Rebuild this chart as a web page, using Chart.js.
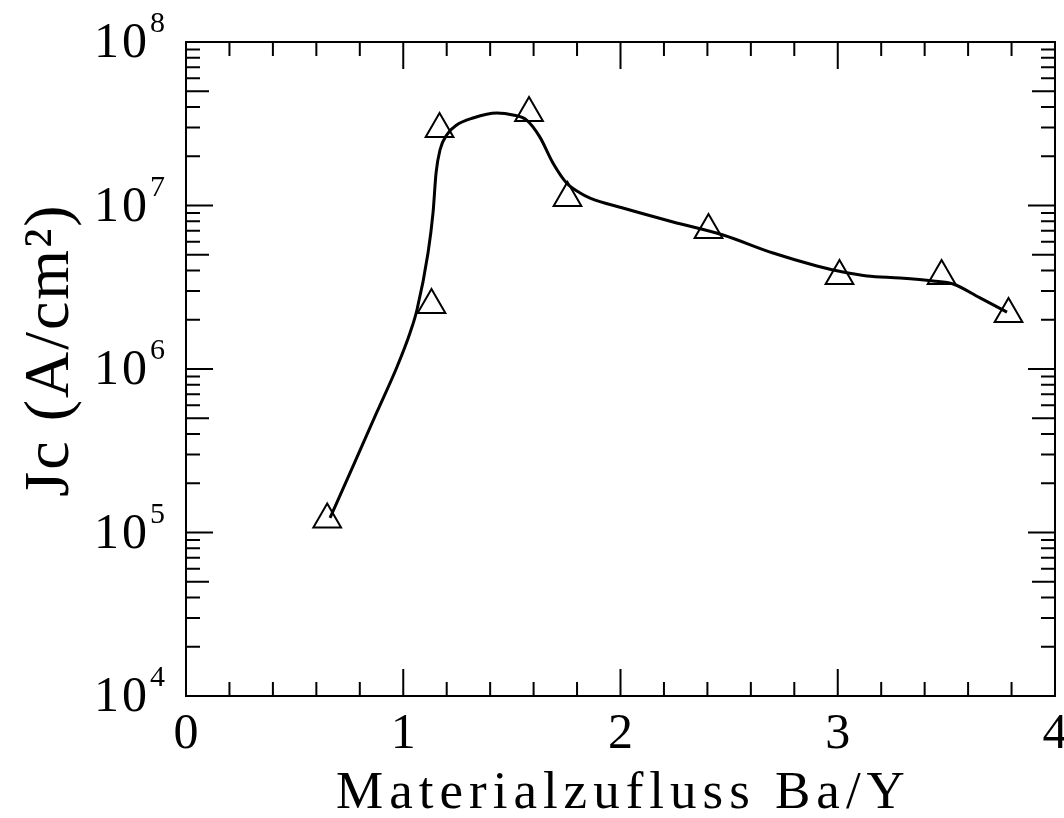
<!DOCTYPE html>
<html><head><meta charset="utf-8">
<script src="https://cdn.jsdelivr.net/npm/chart.js@4"></script>
<style>html,body{margin:0;padding:0;background:#fff;overflow:hidden}canvas{display:block}</style>
</head><body>
<div style="width:1064px;height:818px"><canvas id="c" width="1064" height="818"></canvas></div>
<script>
// measured points (triangles)
const measX = [0.65, 1.13, 1.167, 1.579, 1.756, 2.405, 3.008, 3.478, 3.786];
const measY = [1.2e5, 2.46e6, 2.94e7, 3.68e7, 1.11e7, 7.08e6, 3.7e6, 3.7e6, 2.17e6];
// fitted curve
const curveX = [0.663, 0.769, 0.879, 0.971, 1.031, 1.063, 1.114, 1.137, 1.151, 1.169, 1.200, 1.246, 1.321, 1.430, 1.505, 1.568, 1.629, 1.689, 1.752, 1.814, 1.860, 2.011, 2.242, 2.472, 2.702, 2.904, 3.024, 3.135, 3.287, 3.438, 3.531, 3.655, 3.779];
const curveY = [1.227e5, 2.55e5, 5.46e5, 1.029e6, 1.661e6, 2.296e6, 5.12e6, 9.0e6, 1.58e7, 2.185e7, 2.70e7, 3.108e7, 3.43e7, 3.68e7, 3.58e7, 3.33e7, 2.62e7, 1.82e7, 1.372e7, 1.193e7, 1.111e7, 9.65e6, 7.93e6, 6.60e6, 5.12e6, 4.27e6, 3.92e6, 3.71e6, 3.60e6, 3.45e6, 3.31e6, 2.72e6, 2.23e6];
// axes
const xTickValues = [0, 1, 2, 3, 4];
const xTickLabels = ['0', '1', '2', '3', '4'];
const xMinorTicks = [0.2,0.4,0.6,0.8,1.2,1.4,1.6,1.8,2.2,2.4,2.6,2.8,3.2,3.4,3.6,3.8];
const yTickValues = [1e4, 1e5, 1e6, 1e7, 1e8];
const yTickBase = '10';
const yTickExponents = ['4', '5', '6', '7', '8'];
const yMinorMultipliers = [2, 3, 4, 5, 6, 7, 8, 9];
const xTitle = 'Materialzufluss Ba/Y';
const yTitle = 'Jc (A/cm²)';

const FONT = '"Liberation Serif", "Times New Roman", serif';

const axesPlugin = {
  id: 'axesPlugin',
  afterDraw(chart) {
    const ctx = chart.ctx;
    const xs = chart.scales.x, ys = chart.scales.y;
    const L = xs.getPixelForValue(0), R = xs.getPixelForValue(4);
    const T = ys.getPixelForValue(1e8), B = ys.getPixelForValue(1e4);
    ctx.save();
    ctx.strokeStyle = '#000';
    ctx.fillStyle = '#000';
    ctx.lineWidth = 2;
    ctx.strokeRect(L, T, R - L, B - T);
    ctx.beginPath();
    const xt = (v, len) => {
      const p = xs.getPixelForValue(v);
      ctx.moveTo(p, B); ctx.lineTo(p, B - len);
      ctx.moveTo(p, T); ctx.lineTo(p, T + len);
    };
    xTickValues.forEach(v => xt(v, 27));
    xMinorTicks.forEach(v => xt(v, 14));
    const yt = (v, len) => {
      const p = ys.getPixelForValue(v);
      ctx.moveTo(L, p); ctx.lineTo(L + len, p);
      ctx.moveTo(R, p); ctx.lineTo(R - len, p);
    };
    yTickValues.forEach(v => yt(v, 27));
    for (let i = 0; i < yTickValues.length - 1; i++) {
      yMinorMultipliers.forEach(m => yt(yTickValues[i] * m, m === 5 ? 23 : 14));
    }
    ctx.stroke();

    // x tick labels
    ctx.font = '50px ' + FONT;
    ctx.textAlign = 'center';
    ctx.textBaseline = 'alphabetic';
    xTickValues.forEach((v, i) => {
      ctx.fillText(xTickLabels[i], xs.getPixelForValue(v), B + 52);
    });
    // y tick labels
    yTickValues.forEach((v, i) => {
      const p = ys.getPixelForValue(v);
      ctx.font = '50px ' + FONT;
      ctx.textAlign = 'right';
      ctx.letterSpacing = '3px';
      ctx.fillText(yTickBase, L - 36, p + 15);
      ctx.letterSpacing = '0px';
      ctx.font = '30px ' + FONT;
      ctx.textAlign = 'left';
      ctx.fillText(yTickExponents[i], L - 36, p - 10);
    });
    // x title
    ctx.font = '53px ' + FONT;
    ctx.textAlign = 'center';
    ctx.letterSpacing = '6px';
    ctx.fillText(xTitle, (L + R) / 2 + 3, 808);
    ctx.letterSpacing = '0px';
    // y title
    ctx.save();
    ctx.translate(68, 350);
    ctx.rotate(-Math.PI / 2);
    ctx.font = '64px ' + FONT;
    ctx.textAlign = 'center';
    ctx.letterSpacing = '2px';
    ctx.fillText(yTitle, 0, 0);
    ctx.restore();
    ctx.restore();
  }
};

new Chart(document.getElementById('c'), {
  type: 'scatter',
  data: {
    datasets: [
      {
        label: 'fit',
        data: curveX.map((x, i) => ({x, y: curveY[i]})),
        showLine: true,
        borderColor: '#000',
        borderWidth: 3,
        pointRadius: 0,
        tension: 0.4,
        cubicInterpolationMode: 'monotone',
        fill: false
      },
      {
        label: 'Jc',
        data: measX.map((x, i) => ({x, y: measY[i]})),
        showLine: false,
        pointStyle: 'triangle',
        pointRadius: 16,
        pointBorderWidth: 2,
        pointBorderColor: '#000',
        pointBackgroundColor: 'rgba(0,0,0,0)'
      }
    ]
  },
  options: {
    responsive: false,
    animation: false,
    devicePixelRatio: 1,
    layout: {autoPadding: false, padding: {left: 186, right: 9, top: 42, bottom: 122}},
    plugins: {legend: {display: false}, tooltip: {enabled: false}},
    scales: {
      x: {type: 'linear', min: 0, max: 4, display: false},
      y: {type: 'logarithmic', min: 1e4, max: 1e8, display: false}
    }
  },
  plugins: [axesPlugin]
});
</script>
</body></html>
